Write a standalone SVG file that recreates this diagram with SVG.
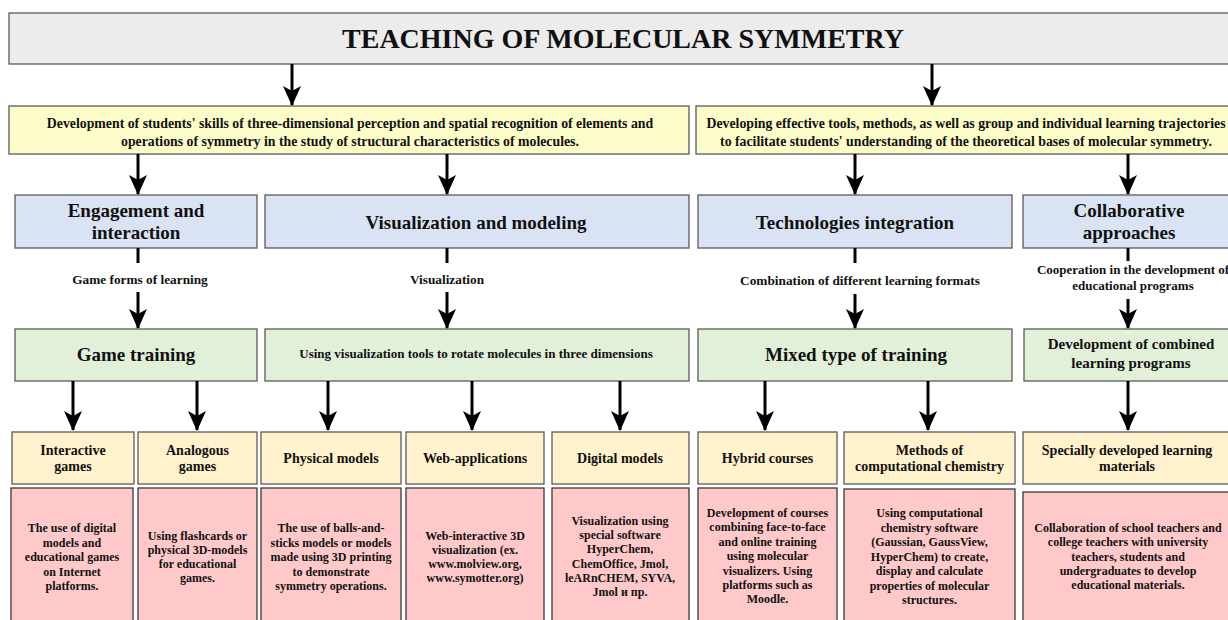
<svg xmlns="http://www.w3.org/2000/svg" width="1228" height="620" viewBox="0 0 1228 620">
<style>
text{font-family:"Liberation Serif","Times New Roman",serif;font-weight:bold;fill:#111;text-anchor:middle}
.box{stroke:#5a5a5a;stroke-width:1.3}
.title{fill:#ececec}
.yel{fill:#fdfdc9}
.blu{fill:#dae3f3}
.grn{fill:#e2efd9}
.org{fill:#fff2cc}
.pnk{fill:#ffc9c9;stroke:#3a3a3a}
.t28{font-size:28px}
.t19{font-size:19px}
.t15{font-size:15px}
.t14{font-size:14px}
.ty{font-size:13.8px}
.t13{font-size:13px}
.tl{font-size:13.3px}
.t12{font-size:12px}
.arr{stroke:#000;stroke-width:3;fill:none;marker-end:url(#ah)}
.stem{stroke:#000;stroke-width:3;fill:none}
</style>
<defs>
<marker id="ah" viewBox="0 0 20 18" refX="19" refY="9" markerWidth="20" markerHeight="18" markerUnits="userSpaceOnUse" orient="auto">
<path d="M0,0 L20,9 L0,18 L5,9 z" fill="#000"/>
</marker>
</defs>
<rect width="1228" height="620" fill="#fff"/>

<g id="n-title"><rect class="box title" x="9" y="13" width="1230" height="51"/><text class="t28" x="623" y="48">TEACHING OF MOLECULAR SYMMETRY</text></g>

<g id="n-goal1"><rect class="box yel" x="9" y="106" width="680" height="48"/><text class="ty" x="350" y="128">Development of students' skills of three-dimensional perception and spatial recognition of elements and<tspan x="350" dy="17.5">operations of symmetry in the study of structural characteristics of molecules.</tspan></text></g>
<g id="n-goal2"><rect class="box yel" x="696" y="106" width="540" height="48"/><text class="ty" x="966" y="128">Developing effective tools, methods, as well as group and individual learning trajectories<tspan x="966" dy="17.5">to facilitate students' understanding of the theoretical bases of molecular symmetry.</tspan></text></g>

<g id="n-engage"><rect class="box blu" x="15" y="195" width="242" height="53"/><text class="t19" x="136" y="217">Engagement and<tspan x="136" dy="22">interaction</tspan></text></g>
<g id="n-visual"><rect class="box blu" x="265" y="195" width="424" height="53"/><text class="t19" x="476" y="229">Visualization and modeling</text></g>
<g id="n-tech"><rect class="box blu" x="698" y="195" width="314" height="53"/><text class="t19" x="855" y="229">Technologies integration</text></g>
<g id="n-collab"><rect class="box blu" x="1023" y="195" width="215" height="53"/><text class="t19" x="1129" y="217">Collaborative<tspan x="1129" dy="22">approaches</tspan></text></g>

<g id="n-game"><rect class="box grn" x="15" y="329" width="242" height="52"/><text class="t19" x="136" y="361">Game training</text></g>
<g id="n-rotate"><rect class="box grn" x="265" y="329" width="424" height="52"/><text class="t13" x="476" y="358">Using visualization tools to rotate molecules in three dimensions</text></g>
<g id="n-mixed"><rect class="box grn" x="698" y="329" width="314" height="52"/><text class="t19" x="856" y="361">Mixed type of training</text></g>
<g id="n-combined"><rect class="box grn" x="1024" y="329" width="214" height="52"/><text class="t15" x="1131" y="349">Development of combined<tspan x="1131" dy="19">learning programs</tspan></text></g>

<g id="n-o1"><rect class="box org" x="12" y="432" width="122" height="52"/><text class="t14" x="73" y="455">Interactive<tspan x="73" dy="16">games</tspan></text></g>
<g id="n-o2"><rect class="box org" x="138" y="432" width="119" height="52"/><text class="t14" x="197.5" y="455">Analogous<tspan x="197.5" dy="16">games</tspan></text></g>
<g id="n-o3"><rect class="box org" x="261" y="432" width="140" height="52"/><text class="t14" x="331" y="463">Physical models</text></g>
<g id="n-o4"><rect class="box org" x="406" y="432" width="138" height="52"/><text class="t14" x="475" y="463">Web-applications</text></g>
<g id="n-o5"><rect class="box org" x="552" y="432" width="137" height="52"/><text class="t14" x="620" y="463">Digital models</text></g>
<g id="n-o6"><rect class="box org" x="698" y="432" width="139" height="52"/><text class="t14" x="767.5" y="463">Hybrid courses</text></g>
<g id="n-o7"><rect class="box org" x="844" y="432" width="171" height="52"/><text class="t14" x="929.5" y="455">Methods of<tspan x="929.5" dy="16">computational chemistry</tspan></text></g>
<g id="n-o8"><rect class="box org" x="1023" y="432" width="215" height="52"/><text class="t14" x="1127" y="455">Specially developed learning<tspan x="1127" dy="16">materials</tspan></text></g>

<g id="n-p1"><rect class="box pnk" x="11" y="488" width="122" height="140"/><text class="t12" x="72" y="532">The use of digital<tspan x="72" dy="14.5">models and</tspan><tspan x="72" dy="14.5">educational games</tspan><tspan x="72" dy="14.5">on Internet</tspan><tspan x="72" dy="14.5">platforms.</tspan></text></g>
<g id="n-p2"><rect class="box pnk" x="138" y="488" width="119" height="140"/><text class="t12" x="197.5" y="540">Using flashcards or<tspan x="197.5" dy="14">physical 3D-models</tspan><tspan x="197.5" dy="14">for educational</tspan><tspan x="197.5" dy="14">games.</tspan></text></g>
<g id="n-p3"><rect class="box pnk" x="261" y="488" width="140" height="140"/><text class="t12" x="331" y="532">The use of balls-and-<tspan x="331" dy="14.5">sticks models or models</tspan><tspan x="331" dy="14.5">made using 3D printing</tspan><tspan x="331" dy="14.5">to demonstrate</tspan><tspan x="331" dy="14.5">symmetry operations.</tspan></text></g>
<g id="n-p4"><rect class="box pnk" x="406" y="488" width="138" height="140"/><text class="t12" x="475" y="540">Web-interactive 3D<tspan x="475" dy="14">visualization (ex.</tspan><tspan x="475" dy="14">www.molview.org,</tspan><tspan x="475" dy="14">www.symotter.org)</tspan></text></g>
<g id="n-p5"><rect class="box pnk" x="552" y="488" width="137" height="140"/><text class="t12" x="620" y="525">Visualization using<tspan x="620" dy="14.2">special software</tspan><tspan x="620" dy="14.2">HyperChem,</tspan><tspan x="620" dy="14.2">ChemOffice, Jmol,</tspan><tspan x="620" dy="14.2">leARnCHEM, SYVA,</tspan><tspan x="620" dy="14.2">Jmol и пр.</tspan></text></g>
<g id="n-p6"><rect class="box pnk" x="698" y="488" width="139" height="140"/><text class="t12" x="767.5" y="517">Development of courses<tspan x="767.5" dy="14.4">combining face-to-face</tspan><tspan x="767.5" dy="14.4">and online training</tspan><tspan x="767.5" dy="14.4">using molecular</tspan><tspan x="767.5" dy="14.4">visualizers. Using</tspan><tspan x="767.5" dy="14.4">platforms such as</tspan><tspan x="767.5" dy="14.4">Moodle.</tspan></text></g>
<g id="n-p7"><rect class="box pnk" x="844" y="489" width="171" height="140"/><text class="t12" x="929.5" y="517">Using computational<tspan x="929.5" dy="14.5">chemistry software</tspan><tspan x="929.5" dy="14.5">(Gaussian, GaussView,</tspan><tspan x="929.5" dy="14.5">HyperChem) to create,</tspan><tspan x="929.5" dy="14.5">display and calculate</tspan><tspan x="929.5" dy="14.5">properties of molecular</tspan><tspan x="929.5" dy="14.5">structures.</tspan></text></g>
<g id="n-p8"><rect class="box pnk" x="1023" y="492" width="215" height="140"/><text class="t12" x="1128" y="532">Collaboration of school teachers and<tspan x="1128" dy="14.3">college teachers with university</tspan><tspan x="1128" dy="14.3">teachers, students and</tspan><tspan x="1128" dy="14.3">undergraduates to develop</tspan><tspan x="1128" dy="14.3">educational materials.</tspan></text></g>

<g id="labels">
<text class="tl" x="140" y="284">Game forms of learning</text>
<text class="tl" x="447" y="284">Visualization</text>
<text class="tl" x="860" y="285">Combination of different learning formats</text>
<text class="t13" x="1133" y="274">Cooperation in the development of<tspan x="1133" dy="16">educational programs</tspan></text>
</g>

<g id="connectors">
<line class="arr" x1="292" y1="64" x2="292" y2="105"/>
<line class="arr" x1="932" y1="64" x2="932" y2="105"/>
<line class="arr" x1="138" y1="154" x2="138" y2="194"/>
<line class="arr" x1="447" y1="154" x2="447" y2="194"/>
<line class="arr" x1="855" y1="154" x2="855" y2="194"/>
<line class="arr" x1="1128" y1="154" x2="1128" y2="194"/>
<line class="stem" x1="138" y1="248" x2="138" y2="263"/>
<line class="stem" x1="447" y1="248" x2="447" y2="263"/>
<line class="stem" x1="855" y1="248" x2="855" y2="263"/>
<line class="stem" x1="1128" y1="248" x2="1128" y2="261"/>
<line class="arr" x1="138" y1="292" x2="138" y2="328"/>
<line class="arr" x1="447" y1="292" x2="447" y2="328"/>
<line class="arr" x1="855" y1="294" x2="855" y2="328"/>
<line class="arr" x1="1128" y1="299" x2="1128" y2="328"/>
<line class="arr" x1="73" y1="381" x2="73" y2="430"/>
<line class="arr" x1="197" y1="381" x2="197" y2="430"/>
<line class="arr" x1="328" y1="381" x2="328" y2="430"/>
<line class="arr" x1="472" y1="381" x2="472" y2="430"/>
<line class="arr" x1="620" y1="381" x2="620" y2="430"/>
<line class="arr" x1="765" y1="381" x2="765" y2="430"/>
<line class="arr" x1="928" y1="381" x2="928" y2="430"/>
<line class="arr" x1="1128" y1="381" x2="1128" y2="430"/>
</g>
</svg>
